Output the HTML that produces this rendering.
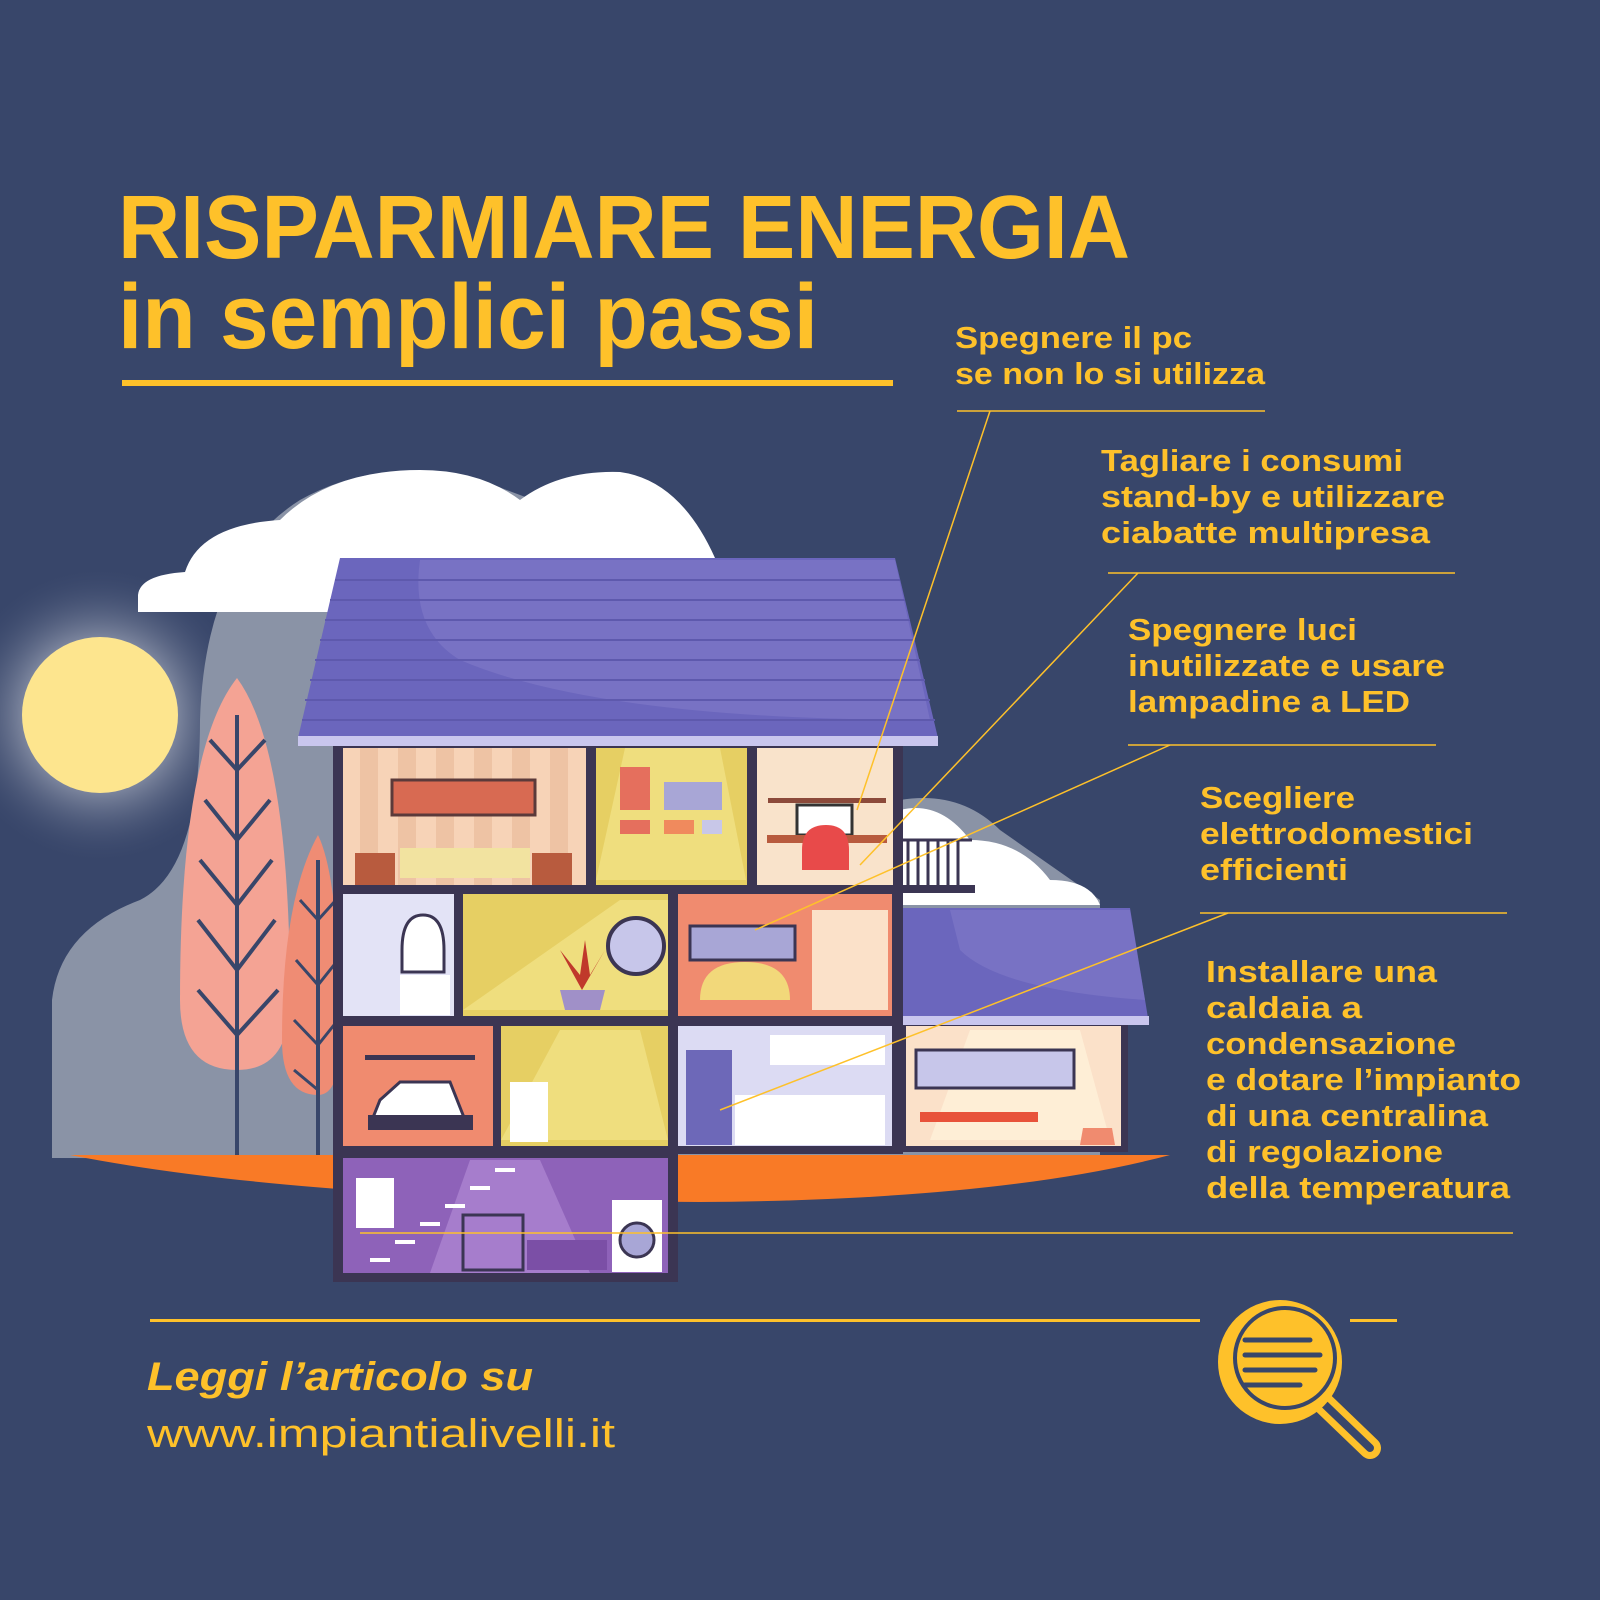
<!DOCTYPE html>
<html><head><meta charset="utf-8"><style>
html,body{margin:0;padding:0;background:#38466a}
svg{display:block}
.t{font-family:"Liberation Sans",sans-serif;font-weight:bold;fill:#fec12a}
</style></head><body>
<svg width="1600" height="1600" viewBox="0 0 1600 1600" xmlns="http://www.w3.org/2000/svg">
<defs>
<radialGradient id="glow" cx="0.5" cy="0.5" r="0.5">
<stop offset="0.45" stop-color="#c9cdd8" stop-opacity="0.6"/>
<stop offset="1" stop-color="#38466a" stop-opacity="0"/>
</radialGradient>
</defs>
<rect width="1600" height="1600" fill="#38466a"/>
<text class="t" x="118" y="258" font-size="90" textLength="1012" lengthAdjust="spacingAndGlyphs">RISPARMIARE ENERGIA</text>
<text class="t" x="118" y="348" font-size="92" textLength="700" lengthAdjust="spacingAndGlyphs">in semplici passi</text>
<rect x="122" y="380" width="771" height="6" fill="#fec12a"/>

<circle cx="100" cy="715" r="150" fill="url(#glow)"/>
<circle cx="100" cy="715" r="78" fill="#fde58e"/>

<path d="M52 1158 L52 1000 Q60 930 140 900 Q200 870 200 720 Q205 560 300 500 Q380 455 480 480 Q560 510 640 540 L900 800 Q960 790 1000 830 L1100 900 L1100 1160 Z" fill="#8a93a6"/>
<path d="M138 612 L138 595 Q140 575 185 572 Q200 525 280 520 Q330 470 420 470 Q480 470 520 500 Q560 470 620 472 Q680 480 715 558 L330 612 Z" fill="#ffffff"/>
<path d="M900 810 Q940 800 970 840 Q1020 840 1050 880 Q1090 880 1100 905 L900 905 Z" fill="#ffffff"/>

<path d="M70 1155 L1170 1155 Q1000 1200 700 1202 Q300 1200 70 1155 Z" fill="#f97a26"/>

<path d="M237 678 Q290 750 290 1000 Q290 1070 237 1070 Q180 1070 180 1000 Q180 750 237 678 Z" fill="#f4a394"/>
<line x1="237" y1="715" x2="237" y2="1155" stroke="#38466a" stroke-width="4"/>
<path d="M210 740 L237 770 L265 740 M205 800 L237 840 L270 800 M200 860 L237 905 L272 860 M198 920 L237 970 L275 920 M198 990 L237 1035 L278 990" stroke="#38466a" stroke-width="4" fill="none"/>
<path d="M318 835 Q340 880 340 1040 Q340 1095 318 1095 Q282 1095 282 1040 Q282 900 318 835 Z" fill="#ef8c74"/>
<line x1="318" y1="860" x2="318" y2="1155" stroke="#38466a" stroke-width="4"/>
<path d="M300 900 L318 920 L336 900 M296 960 L318 985 L338 960 M294 1020 L318 1045 L338 1020 M294 1070 L318 1090" stroke="#38466a" stroke-width="3" fill="none"/>

<rect x="333" y="744" width="570" height="410" fill="#3b3553"/>
<rect x="333" y="1150" width="345" height="132" fill="#3b3553"/>
<rect x="343" y="748" width="243" height="137" fill="#f7d3b7"/>
<g fill="#eec3a4"><rect x="360" y="748" width="18" height="137"/><rect x="398" y="748" width="18" height="137"/><rect x="436" y="748" width="18" height="137"/><rect x="474" y="748" width="18" height="137"/><rect x="512" y="748" width="18" height="137"/><rect x="550" y="748" width="18" height="137"/></g>
<rect x="392" y="780" width="143" height="35" fill="#d86a52" stroke="#5b3a3a" stroke-width="3"/>
<rect x="400" y="848" width="130" height="30" fill="#f2e3a0"/>
<rect x="355" y="853" width="40" height="32" fill="#b85b3e"/><rect x="532" y="853" width="40" height="32" fill="#b85b3e"/>
<rect x="596" y="748" width="151" height="137" fill="#e6cf63"/>
<path d="M596 880 L625 748 L720 748 L746 880 Z" fill="#f5e891" opacity="0.6"/>
<rect x="620" y="767" width="30" height="43" fill="#e56f5d"/><rect x="664" y="782" width="58" height="28" fill="#a8a6d6"/>
<rect x="620" y="820" width="30" height="14" fill="#e56f5d"/><rect x="664" y="820" width="30" height="14" fill="#f08a5d"/><rect x="702" y="820" width="20" height="14" fill="#c8c7e8"/>
<rect x="757" y="748" width="136" height="137" fill="#f9e3cb"/>
<rect x="768" y="798" width="118" height="5" fill="#8c4a3a"/>
<rect x="797" y="805" width="55" height="30" fill="#fff" stroke="#333" stroke-width="3"/>
<rect x="767" y="835" width="120" height="8" fill="#b85b3e"/>
<path d="M802 850 Q802 825 826 825 Q849 825 849 850 L849 870 L802 870 Z" fill="#e84a4a"/>
<g stroke="#3b3553" stroke-width="3"><line x1="908" y1="840" x2="908" y2="888"/><line x1="918" y1="840" x2="918" y2="888"/><line x1="928" y1="840" x2="928" y2="888"/><line x1="938" y1="840" x2="938" y2="888"/><line x1="948" y1="840" x2="948" y2="888"/><line x1="958" y1="840" x2="958" y2="888"/><line x1="903" y1="840" x2="972" y2="840"/></g>
<rect x="903" y="885" width="72" height="8" fill="#3b3553"/>
<rect x="343" y="894" width="111" height="122" fill="#e3e3f6"/>
<path d="M402 950 Q402 915 423 915 Q444 915 444 950 L444 972 L402 972Z" fill="#fff" stroke="#3b3553" stroke-width="3"/>
<rect x="400" y="975" width="50" height="40" fill="#fff"/>
<rect x="463" y="894" width="205" height="122" fill="#e6cf63"/>
<path d="M463 1010 L620 900 L668 900 L668 1010Z" fill="#f5e891" opacity="0.6"/>
<circle cx="636" cy="946" r="28" fill="#c7c6ea" stroke="#3b3553" stroke-width="4"/>
<path d="M565 1010 L600 1010 L605 990 L560 990Z" fill="#a090c8"/>
<path d="M582 990 L560 950 L580 975 L585 940 L590 975 L605 950Z" fill="#c0392b"/>
<rect x="678" y="894" width="214" height="122" fill="#f08b6f"/>
<rect x="690" y="926" width="105" height="34" fill="#a8a6d6" stroke="#3b3553" stroke-width="3"/>
<rect x="812" y="910" width="76" height="100" fill="#fbe1c9"/>
<path d="M700 1000 Q700 962 745 962 Q790 962 790 1000 Z" fill="#f2d87a"/>
<rect x="343" y="1026" width="150" height="120" fill="#f08b6f"/>
<rect x="365" y="1055" width="110" height="5" fill="#3b3553"/>
<path d="M372 1120 L380 1100 L400 1082 L450 1082 L465 1120 Z" fill="#fff" stroke="#3b3553" stroke-width="3"/>
<rect x="368" y="1115" width="105" height="15" fill="#3b3553"/>
<rect x="501" y="1026" width="167" height="120" fill="#e6cf63"/>
<path d="M501 1140 L560 1030 L640 1030 L668 1140Z" fill="#f5e891" opacity="0.6"/>
<rect x="510" y="1082" width="38" height="60" fill="#fff"/>
<rect x="678" y="1026" width="214" height="120" fill="#dcdbf3"/>
<rect x="686" y="1050" width="46" height="95" fill="#6d68b8"/>
<rect x="735" y="1095" width="150" height="50" fill="#fff"/>
<rect x="770" y="1035" width="115" height="30" fill="#fff"/>
<rect x="343" y="1158" width="325" height="115" fill="#8e62b9"/>
<path d="M430 1273 L470 1160 L540 1160 L590 1273Z" fill="#b58fd8" opacity="0.6"/>
<rect x="356" y="1178" width="38" height="50" fill="#fff"/>
<rect x="612" y="1200" width="50" height="72" fill="#fff"/>
<circle cx="637" cy="1240" r="17" fill="#a8a6d6" stroke="#3b3553" stroke-width="3"/>
<rect x="463" y="1215" width="60" height="55" fill="none" stroke="#3b3553" stroke-width="3"/>
<rect x="527" y="1240" width="80" height="30" fill="#7b4fa6"/>
<g fill="#fff"><rect x="370" y="1258" width="20" height="4"/><rect x="395" y="1240" width="20" height="4"/><rect x="420" y="1222" width="20" height="4"/><rect x="445" y="1204" width="20" height="4"/><rect x="470" y="1186" width="20" height="4"/><rect x="495" y="1168" width="20" height="4"/></g>

<path d="M340 558 L895 558 L938 738 L298 738 Z" fill="#6b66bd"/>
<path d="M420 560 L895 560 L930 720 Q600 720 460 660 Q410 630 420 560Z" fill="#8079c8" opacity="0.6"/>
<g stroke="#5e59ad" stroke-width="2">
<line x1="335" y1="580" x2="900" y2="580"/><line x1="330" y1="600" x2="905" y2="600"/><line x1="325" y1="620" x2="910" y2="620"/><line x1="320" y1="640" x2="915" y2="640"/><line x1="315" y1="660" x2="920" y2="660"/><line x1="310" y1="680" x2="925" y2="680"/><line x1="305" y1="700" x2="930" y2="700"/><line x1="302" y1="720" x2="935" y2="720"/></g>
<rect x="298" y="736" width="640" height="10" fill="#c9c6ee"/>
<rect x="903" y="1020" width="225" height="132" fill="#3b3553"/>
<rect x="906" y="1026" width="215" height="120" fill="#fbe1c9"/>
<path d="M930 1140 L970 1030 L1080 1030 L1110 1140Z" fill="#fff3dc" opacity="0.7"/>
<rect x="916" y="1050" width="158" height="38" fill="#c7c6ea" stroke="#3b3553" stroke-width="3"/>
<rect x="920" y="1112" width="118" height="10" fill="#e8523a"/>
<path d="M1080 1145 L1115 1145 L1112 1128 L1083 1128Z" fill="#f08b6f"/>
<path d="M903 908 L1130 908 L1148 1018 L903 1018 Z" fill="#6b66bd"/>
<path d="M950 910 L1130 910 L1145 1000 Q1000 990 960 950Z" fill="#8079c8" opacity="0.6"/>
<rect x="903" y="1016" width="246" height="9" fill="#c9c6ee"/>

<g stroke="#fec12a" stroke-width="1.5" fill="none">
<line x1="957" y1="411" x2="1265" y2="411"/>
<line x1="990" y1="411" x2="857" y2="810"/>
<line x1="1108" y1="573" x2="1455" y2="573"/>
<line x1="1138" y1="573" x2="860" y2="865"/>
<line x1="1128" y1="745" x2="1436" y2="745"/>
<line x1="1170" y1="745" x2="755" y2="930"/>
<line x1="1200" y1="913" x2="1507" y2="913"/>
<line x1="1228" y1="913" x2="720" y2="1110"/>
<line x1="360" y1="1233" x2="1513" y2="1233"/>
</g>

<g class="t" font-size="31">
<text x="955" y="348" textLength="237" lengthAdjust="spacingAndGlyphs">Spegnere il pc</text>
<text x="955" y="384" textLength="310" lengthAdjust="spacingAndGlyphs">se non lo si utilizza</text>
<text x="1101" y="471" textLength="302" lengthAdjust="spacingAndGlyphs">Tagliare i consumi</text>
<text x="1101" y="507" textLength="344" lengthAdjust="spacingAndGlyphs">stand-by e utilizzare</text>
<text x="1101" y="543" textLength="329" lengthAdjust="spacingAndGlyphs">ciabatte multipresa</text>
<text x="1128" y="640" textLength="229" lengthAdjust="spacingAndGlyphs">Spegnere luci</text>
<text x="1128" y="676" textLength="317" lengthAdjust="spacingAndGlyphs">inutilizzate e usare</text>
<text x="1128" y="712" textLength="282" lengthAdjust="spacingAndGlyphs">lampadine a LED</text>
<text x="1200" y="808" textLength="155" lengthAdjust="spacingAndGlyphs">Scegliere</text>
<text x="1200" y="844" textLength="273" lengthAdjust="spacingAndGlyphs">elettrodomestici</text>
<text x="1200" y="880" textLength="148" lengthAdjust="spacingAndGlyphs">efficienti</text>
<text x="1206" y="982" textLength="231" lengthAdjust="spacingAndGlyphs">Installare una</text>
<text x="1206" y="1018" textLength="156" lengthAdjust="spacingAndGlyphs">caldaia a</text>
<text x="1206" y="1054" textLength="250" lengthAdjust="spacingAndGlyphs">condensazione</text>
<text x="1206" y="1090" textLength="315" lengthAdjust="spacingAndGlyphs">e dotare l’impianto</text>
<text x="1206" y="1126" textLength="282" lengthAdjust="spacingAndGlyphs">di una centralina</text>
<text x="1206" y="1162" textLength="237" lengthAdjust="spacingAndGlyphs">di regolazione</text>
<text x="1206" y="1198" textLength="304" lengthAdjust="spacingAndGlyphs">della temperatura</text>
</g>

<rect x="150" y="1319" width="1050" height="3" fill="#fec12a"/>
<rect x="1350" y="1319" width="47" height="3" fill="#fec12a"/>
<text class="t" x="147" y="1390" font-size="40" font-style="italic" textLength="386" lengthAdjust="spacingAndGlyphs">Leggi l’articolo su</text>
<text x="147" y="1447" font-size="40" font-family="Liberation Sans, sans-serif" fill="#fec12a" textLength="468" lengthAdjust="spacingAndGlyphs">www.impiantialivelli.it</text>

<line x1="1320" y1="1400" x2="1370" y2="1448" stroke="#fec12a" stroke-width="22" stroke-linecap="round"/>
<line x1="1320" y1="1400" x2="1370" y2="1448" stroke="#38466a" stroke-width="8" stroke-linecap="round"/>
<circle cx="1280" cy="1362" r="62" fill="#fec12a"/>
<circle cx="1285" cy="1358" r="50" fill="none" stroke="#38466a" stroke-width="4"/>
<g stroke="#38466a" stroke-width="5" stroke-linecap="round">
<line x1="1245" y1="1340" x2="1310" y2="1340"/><line x1="1245" y1="1355" x2="1320" y2="1355"/><line x1="1245" y1="1370" x2="1315" y2="1370"/><line x1="1245" y1="1385" x2="1300" y2="1385"/></g>
</svg>
</body></html>
